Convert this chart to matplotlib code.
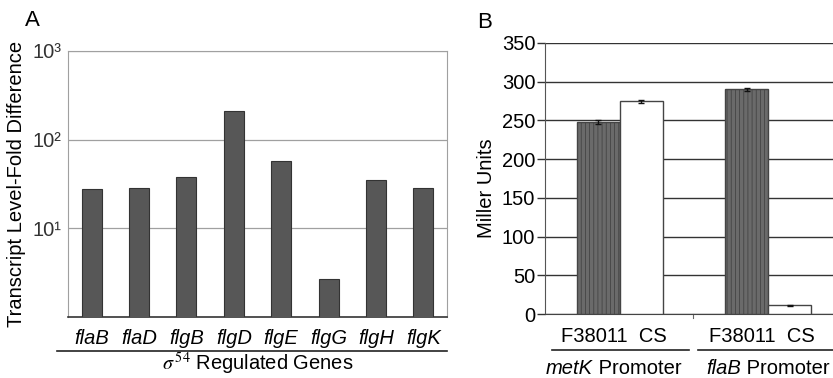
import matplotlib.pyplot as plt
from matplotlib.transforms import blended_transform_factory

plt.rcParams['font.family'] = ['Liberation Sans', 'DejaVu Sans']
plt.rcParams['mathtext.fontset'] = 'stix'
plt.rcParams['hatch.linewidth'] = 0.6

# Panel A data
genes = ['flaB', 'flaD', 'flgB', 'flgD', 'flgE', 'flgG', 'flgH', 'flgK']
fold_diff = [27.5, 28.7, 37.7, 208, 57.6, 2.7, 35.2, 28.7]

# Panel B data
strains = ['F38011', 'CS']
promoters = ['metK', 'flaB']
miller = [248, 275, 290, 11]
miller_err = [2, 2, 2, 1]

FS = 14.5
fig = plt.figure(figsize=(8.33, 3.78), dpi=100)
W, H = 833, 378

# ---- panel A ----
axA = fig.add_axes([68 / W, 1 - 317 / H, 379 / W, 266 / H])
xa = range(len(genes))
axA.bar(xa, fold_diff, width=0.42, color='#575757', edgecolor='#333333', linewidth=0.8, zorder=3)
axA.set_yscale('log')
axA.set_ylim(1, 1000)
axA.set_xlim(-0.5, len(genes) - 0.5)
axA.set_yticks([10, 100, 1000])
axA.set_yticklabels(['10¹', '10²', '10³'], fontsize=FS, color='#333333')
axA.yaxis.set_minor_locator(plt.NullLocator())
axA.tick_params(axis='y', length=0, pad=5)
axA.set_xticks(list(xa))
axA.set_xticklabels(genes, fontsize=FS, style='italic')
axA.tick_params(axis='x', length=0, pad=9)
axA.grid(axis='y', color='#a0a0a0', linewidth=0.9, zorder=0)
for s in ['top', 'right', 'left']:
    axA.spines[s].set_color('#a0a0a0')
axA.spines['bottom'].set_color('#333333')
axA.spines['bottom'].set_linewidth(1.2)
axA.set_ylabel('Transcript Level-Fold Difference', fontsize=FS)
axA.yaxis.set_label_coords(-0.111, 0.5)
axA.plot([-0.03, 1.0], [-0.128, -0.128], transform=axA.transAxes, color='#222222',
         linewidth=1.2, clip_on=False)
axA.text(0.5, -0.178, r'$\sigma^{\,54}$ Regulated Genes', transform=axA.transAxes,
         ha='center', va='center', fontsize=FS)
fig.text(32 / W, 1 - 21 / H, 'A', fontsize=16, ha='center', va='center')

# ---- panel B ----
axB = fig.add_axes([545 / W, 1 - 314 / H, 288 / W, 271 / H])
xb = [1.24, 2.24, 4.69, 5.69]
faces = ['#6a6a6a', 'white', '#6a6a6a', 'white']
hatches = ['||||', '', '||||', '']
for x, v, e, fc, h in zip(xb, miller, miller_err, faces, hatches):
    axB.bar(x, v, width=1.0, color=fc, edgecolor='#444444', hatch=h, linewidth=1.0, zorder=3)
    axB.errorbar(x, v, yerr=e, fmt='none', ecolor='#111111', capsize=2.5, elinewidth=1, zorder=4)
axB.set_xlim(0, 6.7)
axB.set_ylim(0, 350)
axB.set_yticks(range(0, 351, 50))
axB.tick_params(axis='y', labelsize=FS, length=6, width=1, color='#333333', pad=1)
centers = [(xb[0] + xb[1]) / 2 - 0.14, (xb[2] + xb[3]) / 2 - 0.14]
axB.set_xticks(centers)
axB.set_xticklabels(['  '.join(strains)] * 2, fontsize=FS)
axB.tick_params(axis='x', length=0, pad=9)
axB.grid(axis='y', color='#333333', linewidth=1.0, zorder=0)
for s in ['top', 'right']:
    axB.spines[s].set_visible(False)
axB.spines['left'].set_color('#555555')
axB.spines['bottom'].set_color('#444444')
axB.set_ylabel('Miller Units', fontsize=FS)
axB.yaxis.set_label_coords(-0.17, 0.465)

tr = blended_transform_factory(axB.transData, axB.transAxes)
axB.plot([3.45, 3.45], [0, -0.015], transform=tr, color='#666666', linewidth=0.8, clip_on=False)
group_spans = [(0.16, 3.35), (3.56, 6.7)]
for (a, b), p, c in zip(group_spans, promoters, centers):
    axB.plot([a, b], [-0.133, -0.133], transform=tr, color='#222222', linewidth=1.2, clip_on=False)
    axB.annotate(p, xy=(c, -0.2), xycoords=tr, xytext=(-15, 0), textcoords='offset points',
                 ha='right', va='center', fontsize=FS, style='italic')
    axB.annotate(' Promoter', xy=(c, -0.2), xycoords=tr, xytext=(-15, 0),
                 textcoords='offset points', ha='left', va='center', fontsize=FS)
fig.text(485 / W, 1 - 23 / H, 'B', fontsize=16, ha='center', va='center')

fig.savefig('out.png', dpi=100, facecolor='white')
